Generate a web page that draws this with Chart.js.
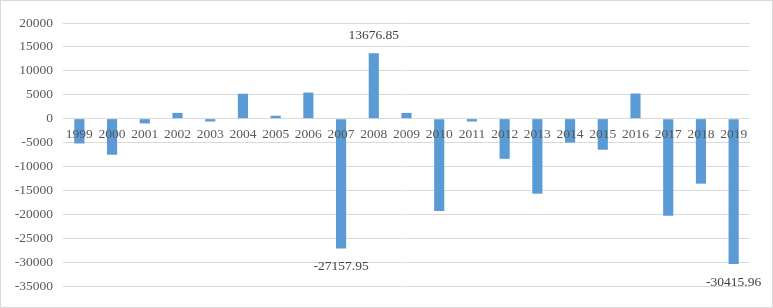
<!DOCTYPE html>
<html>
<head>
<meta charset="utf-8">
<script src="https://cdn.jsdelivr.net/npm/chart.js@4"></script>
<style>
  body { margin: 0; background: #fff; }
  #wrap { position: relative; width: 773px; height: 308px; }
</style>
</head>
<body>
<div id="wrap"><canvas id="chart" width="773" height="308"></canvas></div>
<script>
const years = ['1999', '2000', '2001', '2002', '2003', '2004', '2005', '2006', '2007', '2008',
  '2009', '2010', '2011', '2012', '2013', '2014', '2015', '2016', '2017', '2018', '2019'];
const values = [-5200, -7550, -1000, 1200, -600, 5200, 600, 5450, -27157.95, 13676.85,
  1200, -19300, -600, -8400, -15700, -5000, -6500, 5250, -20300, -13600, -30415.96];
const labelledYears = ['2007', '2008', '2019'];

const barColor = '#5B9BD5';
const textColor = '#595959';
const font = { family: '"Liberation Serif", "Times New Roman", serif', size: 13.5 };

// frame + value labels on a few bars
const extras = {
  id: 'extras',
  afterDatasetsDraw(chart) {
    const ctx = chart.ctx;
    const meta = chart.getDatasetMeta(0);
    ctx.save();
    ctx.font = `${font.size}px ${font.family}`;
    ctx.fillStyle = '#404040';
    ctx.textAlign = 'center';
    ctx.textBaseline = 'middle';
    labelledYears.forEach(y => {
      const i = years.indexOf(y);
      const bar = meta.data[i];
      const v = values[i];
      const off = v < 0 ? 18 : -18;
      ctx.fillText(v.toFixed(2), bar.x, bar.y + off);
    });
    ctx.restore();
  },
  afterDraw(chart) {
    const ctx = chart.ctx;
    ctx.save();
    ctx.strokeStyle = '#d9d9d9';
    ctx.lineWidth = 1;
    ctx.strokeRect(0.5, 0.5, chart.width - 1, chart.height - 1);
    ctx.restore();
  }
};

new Chart(document.getElementById('chart'), {
  type: 'bar',
  data: {
    labels: years,
    datasets: [{
      data: values,
      backgroundColor: barColor,
      barPercentage: 0.31,
      categoryPercentage: 1
    }]
  },
  options: {
    responsive: false,
    animation: false,
    layout: { padding: { left: 0, right: 23, top: 23, bottom: 22 } },
    plugins: { legend: { display: false }, tooltip: { enabled: false } },
    scales: {
      x: {
        position: { y: 0 },
        grid: { display: false, drawTicks: false },
        border: { display: false },
        ticks: { z: 1, color: textColor, font, padding: 8, maxRotation: 0, autoSkip: false }
      },
      y: {
        min: -35000,
        max: 20000,
        ticks: { stepSize: 5000, color: textColor, font, padding: 10, callback: v => String(v) },
        grid: { color: '#d9d9d9', lineWidth: 1, drawTicks: false },
        border: { display: false },
        afterFit: s => { s.width = 63; }
      }
    }
  },
  plugins: [extras]
});
</script>
</body>
</html>
